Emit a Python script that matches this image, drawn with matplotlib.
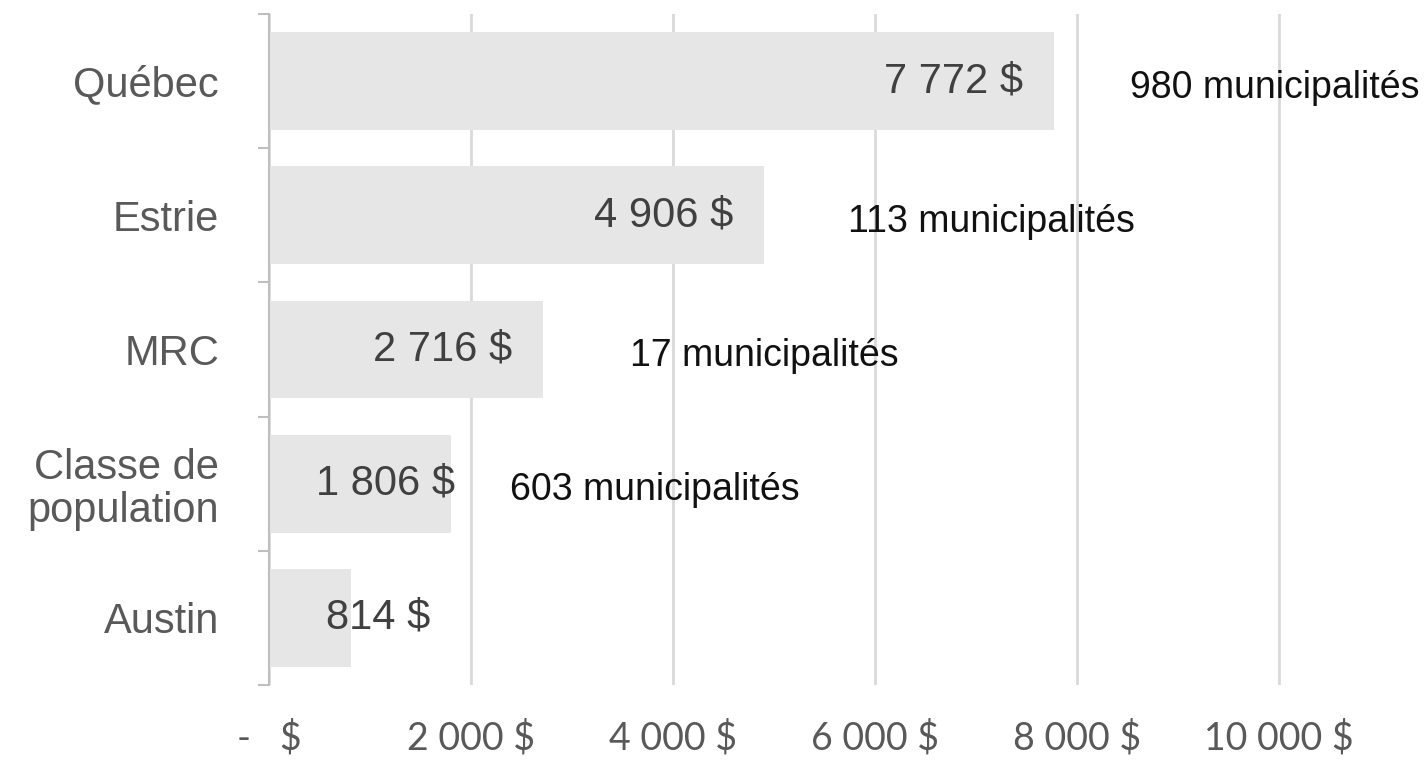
import matplotlib.pyplot as plt
from matplotlib.ticker import FixedLocator

categories = ['Québec', 'Estrie', 'MRC', 'Classe de\npopulation', 'Austin']
values = [7772, 4906, 2716, 1806, 814]
value_labels = ['7 772 $', '4 906 $', '2 716 $', '1 806 $', '814 $']
notes = ['980 municipalités', '113 municipalités', '17 municipalités',
         '603 municipalités', '']
xticks = [0, 2000, 4000, 6000, 8000, 10000]
xtick_labels = ['-   $', '2 000 $', '4 000 $', '6 000 $', '8 000 $', '10 000 $']

# where the labels sit (data units)
label_right = [7465, 4594, 2406, 1842, 1594]
note_left = [8525, 5733, 3574, 2386, 0]

fig = plt.figure(figsize=(14.25, 7.6), dpi=100)
ax = fig.add_axes([269 / 1425, 1 - 685 / 760, 1 - 269 / 1425, (685 - 14) / 760])

ypos = list(range(len(categories)))
ax.barh(ypos, values, height=0.73, color='#e6e6e6', zorder=2)
ax.set_ylim(len(categories) - 0.5, -0.5)
ax.set_xlim(0, 11446)

ax.set_yticks(ypos)
ax.set_yticklabels(categories, fontsize=30, color='#595959',
                   family='Liberation Sans', linespacing=1.1)
ax.yaxis.set_minor_locator(FixedLocator([i - 0.5 for i in range(len(categories) + 1)]))
ax.tick_params(axis='y', which='major', length=0, pad=36)
ax.tick_params(axis='y', which='minor', length=8, width=1.5, color='#bfbfbf')

ax.set_xticks(xticks)
ax.set_xticklabels(xtick_labels, fontsize=27, color='#595959', family='Lato')
ax.tick_params(axis='x', length=0, pad=25)

ax.grid(axis='x', color='#d9d9d9', linewidth=2, zorder=0)
for s in ['top', 'right', 'bottom']:
    ax.spines[s].set_visible(False)
ax.spines['left'].set_color('#bfbfbf')
ax.spines['left'].set_linewidth(1.5)
ax.spines['left'].set_zorder(3)

for i in ypos:
    ax.text(label_right[i], i, value_labels[i], ha='right', va='center',
            fontsize=30, color='#404040', family='Liberation Sans', zorder=4)
    if notes[i]:
        ax.text(note_left[i], i + 0.05, notes[i], ha='left', va='center',
                fontsize=27, color='#111111', family='Liberation Sans', zorder=4)

plt.savefig('out.png', dpi=100)
